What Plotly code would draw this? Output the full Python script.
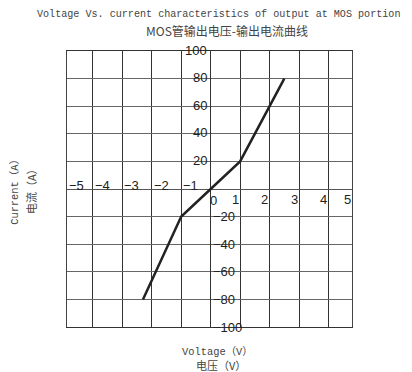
import plotly.graph_objects as go

# MOS output characteristic
voltage = [-2.3, -1, 0, 1, 2.5]
current = [-80, -20, 0, 20, 80]

x_neg_ticks = [-5, -4, -3, -2, -1]
x_pos_ticks = [1, 2, 3, 4, 5]
x_label_pos = [-4.88, -4, -3, -2, -1]   # negative labels sit just right of their grid line
y_pos_ticks = [100, 80, 60, 40, 20]
y_neg_ticks = [-20, -40, -60, -80, -100]

mono = 'Liberation Mono, Noto Sans CJK SC'
sans = 'Liberation Sans, Arial'
cjk = 'Noto Sans CJK SC'

fig = go.Figure()
fig.add_trace(go.Scatter(x=voltage,
                         y=current,
                         mode='lines',
                         line=dict(color='#222', width=2.5),
                         hoverinfo='none'))

ann = []
for v, p in zip(x_neg_ticks, x_label_pos):
    ann.append(dict(x=p, y=0, text=str(v).replace('-', '−'), showarrow=False,
                    xanchor='left', yanchor='middle', xshift=0, yshift=4))
for v in x_pos_ticks:
    ann.append(dict(x=min(v, 4.8), y=0, text=str(v), showarrow=False,
                    xanchor='center', yanchor='middle', xshift=-5, yshift=-10))
ann.append(dict(x=0, y=0, text='0', showarrow=False, xanchor='center', yanchor='middle',
                xshift=3, yshift=-11))
for v in y_pos_ticks:
    ann.append(dict(x=0, y=v, text=str(v), showarrow=False, xanchor='right', yanchor='middle',
                    xshift=-2, yshift=1))
for v in y_neg_ticks:
    ann.append(dict(x=0, y=v, text=str(v).replace('-', '−'), showarrow=False, xanchor='left',
                    yanchor='middle', xshift=0, yshift=0))
for a in ann:
    a['font'] = dict(family=sans, size=13, color='#222')

titles = [
    dict(x=0.53, y=1.134, text='Voltage Vs. current characteristics of output at MOS portion',
         font=dict(family=mono, size=10.1, color='#444')),
    dict(x=0.562, y=1.076, text='MOS管输出电压-输出电流曲线',
         font=dict(family=cjk, size=12, color='#444')),
    dict(x=0.527, y=-0.09, text='Voltage（V）', font=dict(family=mono, size=10.4, color='#444')),
    dict(x=0.541, y=-0.138, text='电压（V）', font=dict(family=cjk, size=11, color='#444')),
    dict(x=-0.183, y=0.5, text='Current（A）', textangle=-90,
         font=dict(family=mono, size=10.4, color='#444')),
    dict(x=-0.126, y=0.5, text='电流（A）', textangle=-90,
         font=dict(family=cjk, size=11, color='#444')),
]
for t in titles:
    t.update(xref='paper', yref='paper', showarrow=False, xanchor='center', yanchor='middle')
    ann.append(t)

# page body adds an 8px margin, so the figure is drawn 8px smaller
fig.update_layout(width=404, height=364,
                  margin=dict(l=59, r=60, t=43, b=45),
                  paper_bgcolor='white', plot_bgcolor='white',
                  showlegend=False, annotations=ann)
fig.update_xaxes(range=[-4.88, 4.8], tickvals=[-4, -3, -2, -1, 1, 2, 3, 4], showticklabels=False,
                 showgrid=True, gridcolor='#333', gridwidth=1.3,
                 zeroline=True, zerolinecolor='#333', zerolinewidth=1.3,
                 showline=True, mirror=True, linecolor='#333', linewidth=1.3)
fig.update_yaxes(range=[-100, 100], tickvals=[-80, -60, -40, -20, 20, 40, 60, 80], showticklabels=False,
                 showgrid=True, gridcolor='#666', gridwidth=1,
                 zeroline=True, zerolinecolor='#555', zerolinewidth=1,
                 showline=True, mirror=True, linecolor='#444', linewidth=1.3)

fig.write_html('out.html')
